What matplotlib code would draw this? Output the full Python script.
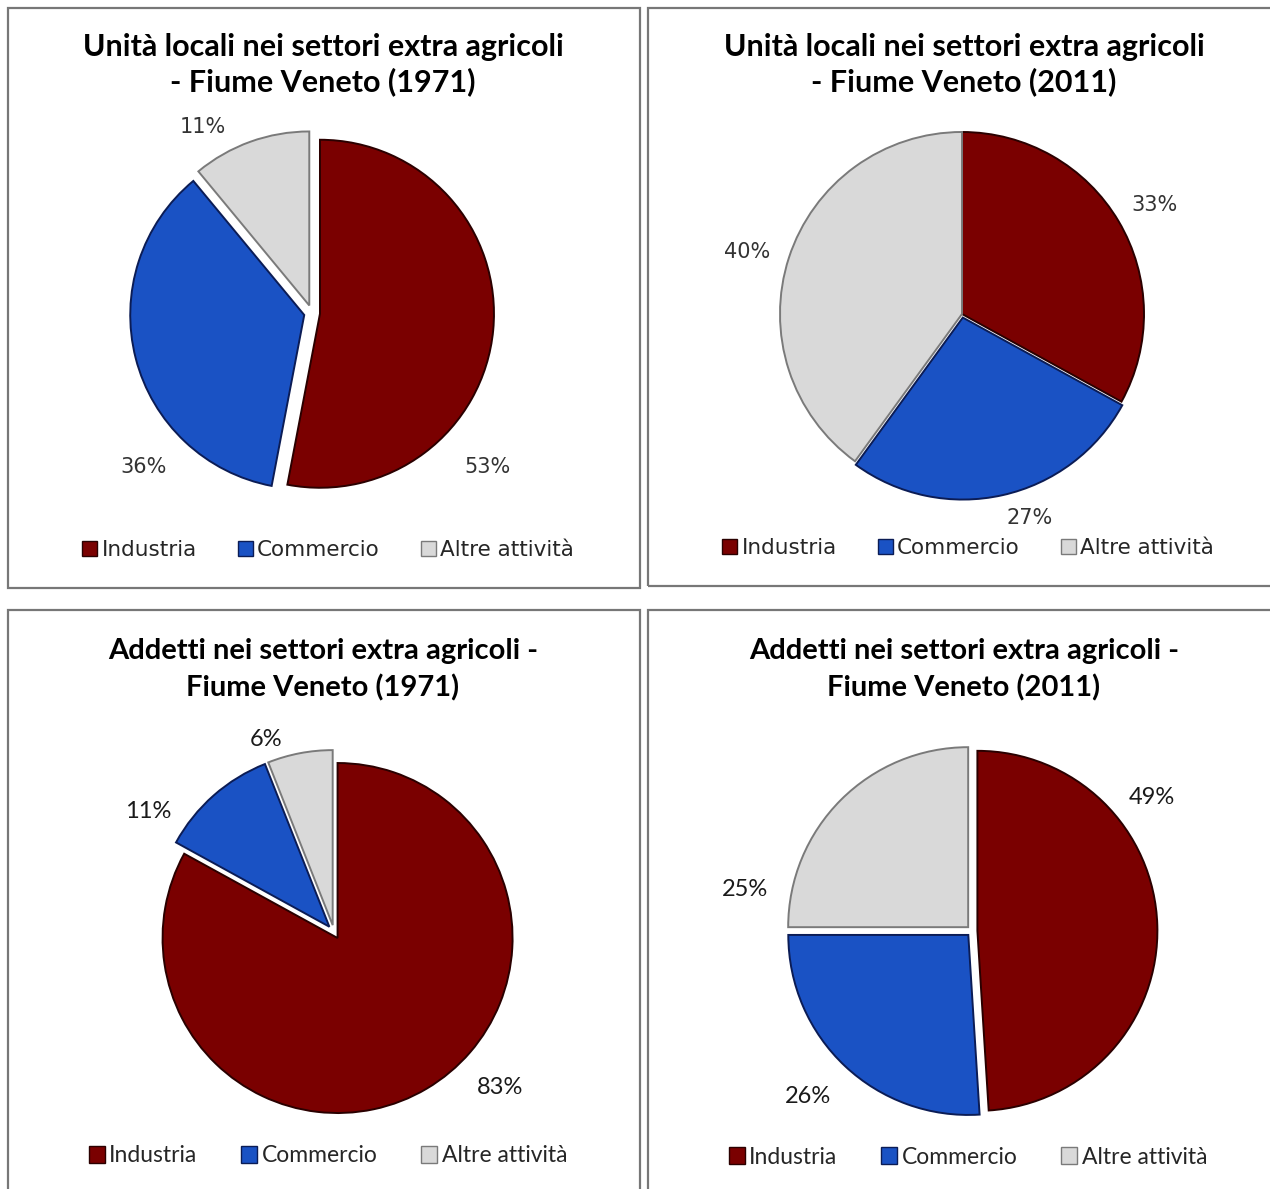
import matplotlib
matplotlib.use("Agg")
import matplotlib.pyplot as plt
from matplotlib.patches import Patch, Rectangle

# ---- data -------------------------------------------------------------
categories = ["Industria", "Commercio", "Altre attività"]

unita_1971 = [53, 36, 11]
unita_2011 = [33, 27, 40]
addetti_1971 = [83, 11, 6]
addetti_2011 = [49, 26, 25]

titles = [
    "Unità locali nei settori extra agricoli\n- Fiume Veneto (1971)",
    "Unità locali nei settori extra agricoli\n- Fiume Veneto (2011)",
    "Addetti nei settori extra agricoli -\nFiume Veneto (1971)",
    "Addetti nei settori extra agricoli -\nFiume Veneto (2011)",
]

# ---- style ------------------------------------------------------------
fill_colors = ["#7a0000", "#1a52c4", "#d9d9d9"]
edge_colors = ["#2a0000", "#0b1c55", "#7a7a7a"]
border_color = "#777777"

W, H = 1270, 1189
fig = plt.figure(figsize=(W / 100, H / 100), dpi=100)
fig.patch.set_facecolor("white")


def fx(x):
    return x / W


def fy(y):
    return 1 - y / H


def frame(x0, y0, x1, y1):
    fig.add_artist(Rectangle((fx(x0), fy(y1)), fx(x1) - fx(x0), fy(y0) - fy(y1),
                             transform=fig.transFigure, fill=False,
                             edgecolor=border_color, linewidth=1.6))


def pie_panel(values, cx, cy, r, explode, label_pos, title, title_xy,
              legend_xy, title_font, text_font, title_size, text_size,
              legend_size, label_color, title_spacing):
    span = 1.6
    side = 2 * span * r
    ax = fig.add_axes([fx(cx - span * r), fy(cy + span * r), side / W, side / H])
    wedges, _ = ax.pie(values, startangle=90, counterclock=False,
                       colors=fill_colors, explode=explode, radius=1.0,
                       wedgeprops=dict(linewidth=1.4))
    for w, ec in zip(wedges, edge_colors):
        w.set_edgecolor(ec)
    ax.set_xlim(-span, span)
    ax.set_ylim(-span, span)
    ax.set_aspect("equal")
    ax.axis("off")
    for v, (lx, ly) in zip(values, label_pos):
        ax.text(lx, ly, f"{v}%", ha="center", va="center",
                fontsize=text_size, family=text_font, color=label_color)

    fig.text(fx(title_xy[0]), fy(title_xy[1]), title, ha="center", va="center",
             fontsize=title_size, family=title_font, fontweight="bold",
             linespacing=title_spacing, color="black")

    handles = [Patch(facecolor=fc, edgecolor=ec, linewidth=1.0)
               for fc, ec in zip(fill_colors, edge_colors)]
    fig.legend(handles, categories, loc="center",
               bbox_to_anchor=(fx(legend_xy[0]), fy(legend_xy[1])),
               ncol=3, frameon=False, handlelength=0.7, handleheight=0.7,
               handletextpad=0.2, columnspacing=1.9, borderaxespad=0,
               prop=dict(family=text_font, size=legend_size),
               labelcolor="#262626")


# panel frames
frame(8, 8, 640, 588)
frame(648, 8, 1290, 586)
frame(8, 610, 640, 1210)
frame(648, 610, 1290, 1210)

top_title_font = "Lato"
top_text_font = "DejaVu Sans"
bot_font = "Lato"

pie_panel(unita_1971, 312, 313, 174, [0.046, 0.046, 0.046],
          [(1.01, -0.885), (-0.97, -0.885), (-0.63, 1.07)],
          titles[0], (323, 65), (328, 550),
          top_title_font, top_text_font, 22, 15, 15.5, "#333333", 1.26)

pie_panel(unita_2011, 962, 314, 182, [0.0, 0.02, 0.0],
          [(1.06, 0.60), (0.37, -1.12), (-1.18, 0.34)],
          titles[1], (964, 65), (968, 548),
          top_title_font, top_text_font, 22, 15, 15.5, "#333333", 1.26)

pie_panel(addetti_1971, 334, 932, 175, [0.04, 0.04, 0.04],
          [(0.95, -0.89), (-1.06, 0.69), (-0.39, 1.10)],
          titles[2], (323, 670), (328, 1156),
          bot_font, bot_font, 21, 17, 16.5, "#1a1a1a", 1.45)

pie_panel(addetti_2011, 972, 931, 180, [0.03, 0.03, 0.03],
          [(1.0, 0.74), (-0.91, -0.92), (-1.26, 0.23)],
          titles[3], (964, 670), (968, 1157),
          bot_font, bot_font, 21, 17, 16.5, "#1a1a1a", 1.45)

fig.savefig("out.png", dpi=100, facecolor="white")
